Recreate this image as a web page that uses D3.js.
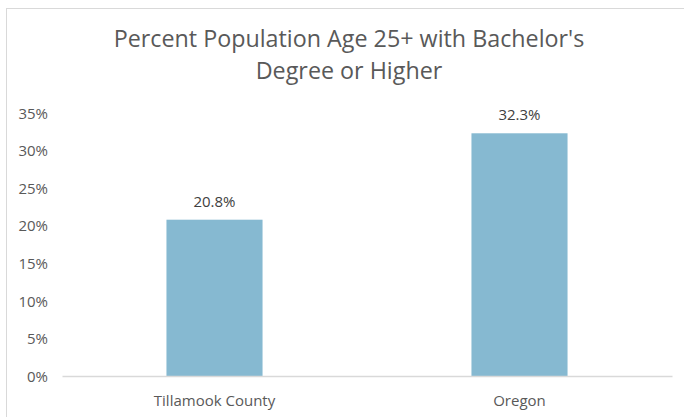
<!DOCTYPE html>
<html>
<head>
<meta charset="utf-8">
<script src="https://cdn.jsdelivr.net/npm/d3@7"></script>
<style>
  html, body { margin: 0; padding: 0; background: #fff; }
  svg { display: block; }
  text { font-family: "Open Sans", "Liberation Sans", sans-serif; }
</style>
</head>
<body>
<svg id="chart" width="684" height="417"></svg>
<script>
const categories = ["Tillamook County", "Oregon"];
const values = [20.8, 32.3];
const valueLabels = ["20.8%", "32.3%"];
const yTicks = [0, 5, 10, 15, 20, 25, 30, 35];
const titleLines = ["Percent Population Age 25+ with Bachelor's", "Degree or Higher"];

const svg = d3.select("#chart");
const x0 = 62, x1 = 672, yTop = 113, yBase = 376;

// chart border
svg.append("rect")
  .attr("x", 6.5).attr("y", 8.5)
  .attr("width", 684).attr("height", 420)
  .attr("fill", "#fff").attr("stroke", "#d9d9d9").attr("stroke-width", 1);

const x = d3.scaleBand().domain(categories).range([x0, x1]).paddingInner(0.685).paddingOuter(0.3425);
const y = d3.scaleLinear().domain([0, 35]).range([yBase, yTop]);

// title
const title = svg.append("text")
  .attr("text-anchor", "middle")
  .attr("fill", "#595959")
  .style("font-size", "23.3px");
titleLines.forEach((t, i) => {
  title.append("tspan").attr("x", 349).attr("y", 47 + i * 32).text(t);
});

// y axis
const yAxis = d3.axisLeft(y).tickValues(yTicks).tickFormat(d => d + "%").tickSize(0).tickPadding(0);
const gy = svg.append("g").attr("transform", `translate(48,0)`).call(yAxis);
gy.select(".domain").remove();
gy.selectAll("text").attr("fill", "#595959").style("font-size", "15px").attr("dy", "0.35em").attr("font-family", null);

// bars
svg.append("g").selectAll("rect")
  .data(values)
  .join("rect")
  .attr("x", (d, i) => x(categories[i]))
  .attr("y", d => y(d))
  .attr("width", x.bandwidth())
  .attr("height", d => yBase - y(d))
  .attr("fill", "#86b9d1");

// x axis
const xAxis = d3.axisBottom(x).tickSize(0).tickPadding(0);
const gx = svg.append("g").attr("transform", `translate(0,${yBase})`).call(xAxis);
gx.select(".domain").attr("stroke", "#d9d9d9").attr("stroke-width", 1.5);
gx.selectAll("text").attr("fill", "#595959").style("font-size", "15px").attr("font-family", null)
  .attr("dy", null).attr("y", 30);

// data labels
svg.append("g").selectAll("text")
  .data(values)
  .join("text")
  .attr("x", (d, i) => x(categories[i]) + x.bandwidth() / 2)
  .attr("y", d => y(d) - 13)
  .attr("text-anchor", "middle")
  .attr("fill", "#404040")
  .style("font-size", "15px")
  .text((d, i) => valueLabels[i]);
</script>
</body>
</html>
